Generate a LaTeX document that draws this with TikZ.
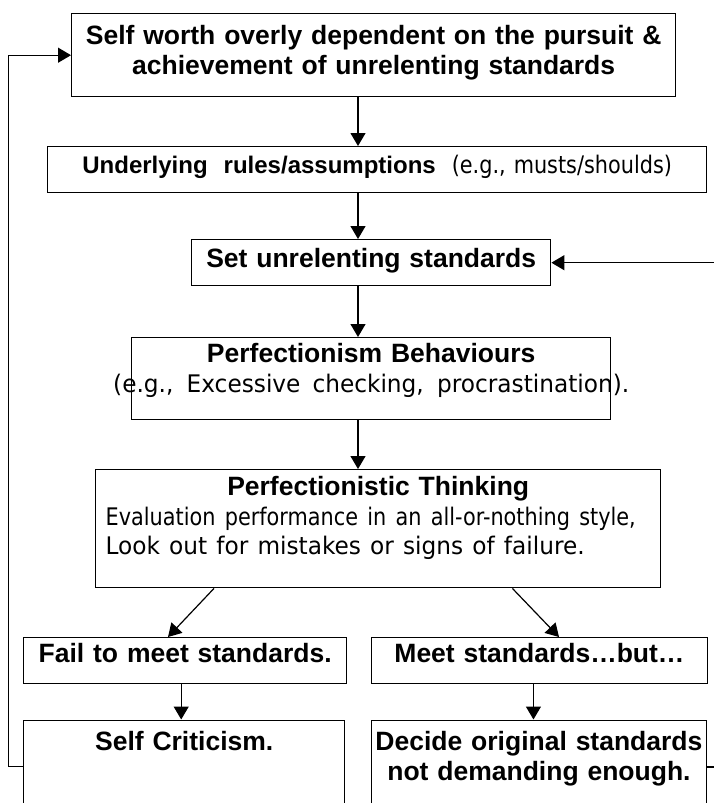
\documentclass[tikz,border=0pt]{standalone}
\usepackage{fontspec}
\setmainfont{Liberation Sans}
\newfontfamily\egfont{DejaVu Sans}[FakeStretch=0.86]
\newfontfamily\egwidefont{DejaVu Sans}[FakeStretch=0.96]
\usetikzlibrary{arrows.meta,calc}
\tikzset{>={Triangle[length=6.5pt,width=7.5pt]}}
\tikzset{%
    box/.style={draw,line width=0.7pt,inner sep=0pt,anchor=north west,%
        align=center,font=\fontsize{13.25}{14.75}\selectfont\bfseries%
    },%
    link/.style={->,line width=0.6pt}%
}
\newcommand{\egtext}[1]{{\egfont\mdseries\fontsize{12.1}{14.75}\selectfont #1}}
\newcommand{\egline}[3][\egfont]{\leavevmode\hbox to #2{#1\mdseries\fontsize{12.1}{14.75}\selectfont
    \spaceskip=0.3em plus 1fil\relax #3}}

\begin{document}
\begin{tikzpicture}[x=0.5pt,y=-0.5pt]
      \useasboundingbox (0,0) rectangle (713,803);
      \node[box,text width=302pt,text height=15.5pt,text depth=26pt] (worth) at (71,13)
        {Self worth overly dependent on the pursuit \&\\ achievement of unrelenting standards};
      \node[box,text width=329.5pt,text height=13.5pt,text depth=9.5pt,
        font=\fontsize{12}{14.75}\selectfont\bfseries] (rules) at (47,146)
        {Underlying\ \ rules/assumptions\ \ \egtext{(e.g., musts/shoulds)}};
      \node[box,text width=179.5pt,text height=13.75pt,text depth=9.25pt] (standards) at (191,239)
        {Set unrelenting standards};
      \node[box,text width=239.5pt,text height=12.5pt,text depth=28.5pt] (behav) at (131,337)
        {Perfectionism Behaviours\\
         \makebox[239.5pt]{\egline[\egwidefont]{258pt}{(e.g., Excessive checking, procrastination).}}};
      \node[box,align=left,inner xsep=5pt,text width=272.5pt,text height=13pt,text depth=46pt] (thinking) at (95,469)
        {\makebox[272.5pt]{Perfectionistic Thinking}\\
         \egline{265pt}{Evaluation performance in an all-or-nothing style,}\\
         \egline[\egwidefont]{239.5pt}{Look out for mistakes or signs of failure.}};
      \node[box,text width=161.5pt,text height=12.25pt,text depth=10.75pt] (fail) at (23,637)
        {Fail to meet standards.};
      \node[box,text width=168.25pt,text height=12.25pt,text depth=10.75pt] (meet) at (370.5,637)
        {Meet standards…but…};
      \node[box,text width=160.5pt,text height=15.25pt,text depth=40pt] (critic) at (23,719.5)
        {Self Criticism.};
      \node[box,text width=167.75pt,text height=15.25pt,text depth=40pt] (decide) at (370.5,719.5)
        {Decide original standards\\ not demanding enough.};
      \coordinate (spine) at (358,0);
      \draw[link] (worth.south -| spine) -- (rules.north -| spine);
      \draw[link] (rules.south -| spine) -- (standards.north -| spine);
      \draw[link] (standards.south -| spine) -- (behav.north -| spine);
      \draw[link] (behav.south -| spine) -- (thinking.north -| spine);
      \draw[link] ([xshift=59.5pt]thinking.south west) -- ([xshift=72.5pt]fail.north west);
      \draw[link] ([xshift=-74.5pt]thinking.south east) -- ([xshift=94.25pt]meet.north west);
      \draw[link] ([xshift=-2pt]fail.south) -- ([xshift=-2pt]fail.south |- critic.north);
      \draw[link] ([xshift=-3pt]meet.south) -- ([xshift=-3pt]meet.south |- decide.north);
      % back to the top and to the standards
      \draw[link] ([yshift=-23.6pt]critic.north west) -- ++(-7.2pt,0) |- (worth.west);
      \draw[link] ([yshift=-23.75pt]decide.north east) -- ++(8pt,0) |- (standards.east);
\end{tikzpicture}
\end{document}
